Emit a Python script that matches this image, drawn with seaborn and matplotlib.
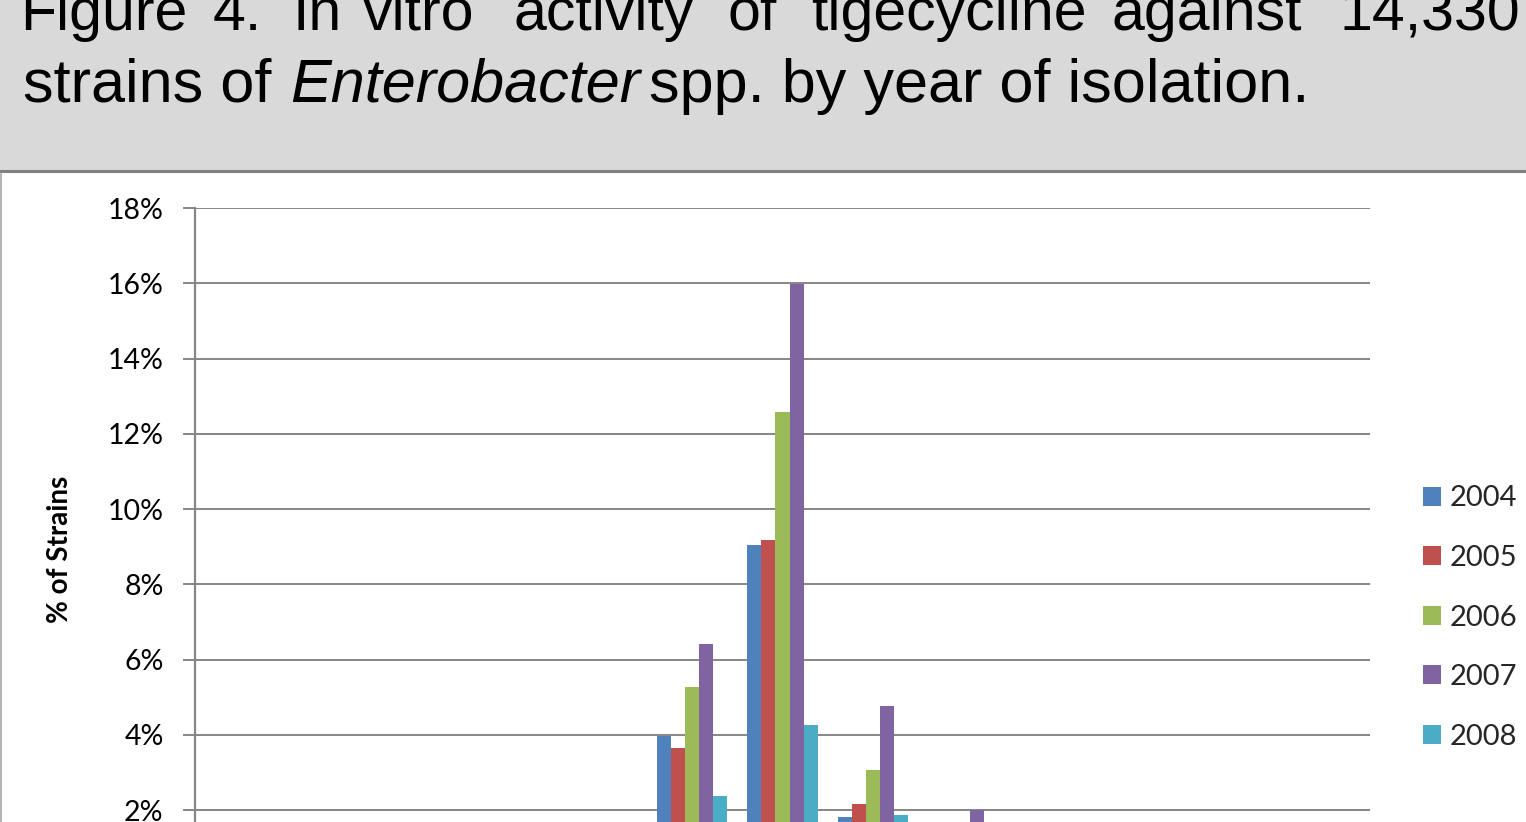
import numpy as np
import pandas as pd
import seaborn as sns
import matplotlib.pyplot as plt
from matplotlib.patches import Rectangle, Patch
from matplotlib.lines import Line2D
from matplotlib.ticker import PercentFormatter, MultipleLocator

# MIC categories (ug/mL) - their tick labels fall below the cropped picture
mic = ["0.008", "0.015", "0.03", "0.06", "0.12", "0.25", "0.5", "1", "2", "4", "8", "16", "32"]
years = ["2004", "2005", "2006", "2007", "2008"]
colors = ["#4F81BD", "#C0504D", "#9BBB59", "#8064A2", "#4BACC6"]

# % of strains (anything under ~1.6% is hidden by the crop -> estimated)
pct_2004 = [0.0, 0.0, 0.05, 0.2, 0.9, 3.98, 9.05, 1.82, 0.5, 0.15, 0.05, 0.0, 0.0]
pct_2005 = [0.0, 0.0, 0.05, 0.2, 0.8, 3.66, 9.18, 2.17, 0.6, 0.2, 0.05, 0.0, 0.0]
pct_2006 = [0.0, 0.0, 0.05, 0.3, 1.2, 5.28, 12.58, 3.07, 0.9, 0.3, 0.05, 0.0, 0.0]
pct_2007 = [0.0, 0.0, 0.1, 0.4, 1.5, 6.42, 15.98, 4.77, 2.0, 0.5, 0.1, 0.0, 0.0]
pct_2008 = [0.0, 0.0, 0.05, 0.1, 0.5, 2.38, 4.27, 1.88, 0.6, 0.2, 0.05, 0.0, 0.0]

df = pd.DataFrame({
    "mic": mic * 5,
    "year": np.repeat(years, len(mic)),
    "pct": pct_2004 + pct_2005 + pct_2006 + pct_2007 + pct_2008,
})

sns.set_theme(style="white")
plt.rcParams["font.family"] = ["Lato", "DejaVu Sans"]

W, H = 1526, 822
fig = plt.figure(figsize=(W / 100, H / 100), dpi=100)


def fx(px):
    return px / W


def fy(py):
    return 1 - py / H


# --- title box ---
fig.patches.append(Rectangle((0, fy(170)), 1, 1 - fy(170), transform=fig.transFigure,
                             facecolor="#d9d9d9", edgecolor="none", zorder=0))
fig.add_artist(Line2D([0, 1], [fy(171.5)] * 2, transform=fig.transFigure, color="#808080", lw=2.2))
fig.add_artist(Line2D([fx(1.5)] * 2, [0, fy(173)], transform=fig.transFigure, color="#a6a6a6", lw=1.2))

# justified first line: each word at its own x
tfont = dict(family=["Liberation Sans", "DejaVu Sans"], color="black", va="baseline")
line1 = [("Figure", 20), ("4.", 213), ("In", 292), ("vitro", 363), ("activity", 513),
         ("of", 728), ("tigecycline", 811), ("against", 1111), ("14,330", 1339)]
for word, xpos in line1:
    fig.text(fx(xpos), fy(30), word, fontsize=42.5, **tfont)
fig.text(fx(23), fy(102), "strains of", fontsize=44, **tfont)
fig.text(fx(290), fy(102), "Enterobacter", style="italic", fontsize=44, **tfont)
fig.text(fx(649), fy(102), "spp. by year of isolation.", fontsize=44, **tfont)

# --- chart ---
y_zero = 208 + 18 * 37.63  # pixel row of 0%, below the crop
ax = fig.add_axes([fx(195), fy(y_zero), fx(1370) - fx(195), fy(208) - fy(y_zero)])
sns.barplot(data=df, x="mic", y="pct", hue="year", palette=colors, width=0.775,
            saturation=1, linewidth=0, legend=False, ax=ax)

ax.set_ylim(0, 18)
ax.yaxis.set_major_locator(MultipleLocator(2))
ax.yaxis.set_major_formatter(PercentFormatter(100, decimals=0))
ax.grid(axis="y", color="#868686", lw=1.4)
ax.set_axisbelow(True)
for s in ["top", "right", "bottom"]:
    ax.spines[s].set_visible(False)
ax.spines["left"].set_color("#868686")
ax.spines["left"].set_linewidth(1.6)
ax.tick_params(axis="y", length=8.6, width=1.4, color="#868686", pad=14, labelsize=20.5,
               labelcolor="black", left=True)
ax.set_xlabel("")
ax.set_ylabel("")

fig.text(fx(60), fy(549), "% of Strains", rotation=90, ha="center", va="center",
         fontsize=20, fontweight="bold", color="black")

handles = [Patch(facecolor=c, edgecolor="none") for c in colors]
fig.legend(handles, years, loc="center left", bbox_to_anchor=(fx(1423), fy(617.5)),
           frameon=False, fontsize=21, handlelength=0.62, handleheight=0.62,
           handletextpad=0.3, labelspacing=1.15, borderpad=0, borderaxespad=0)

fig.savefig("out.png", dpi=100)
